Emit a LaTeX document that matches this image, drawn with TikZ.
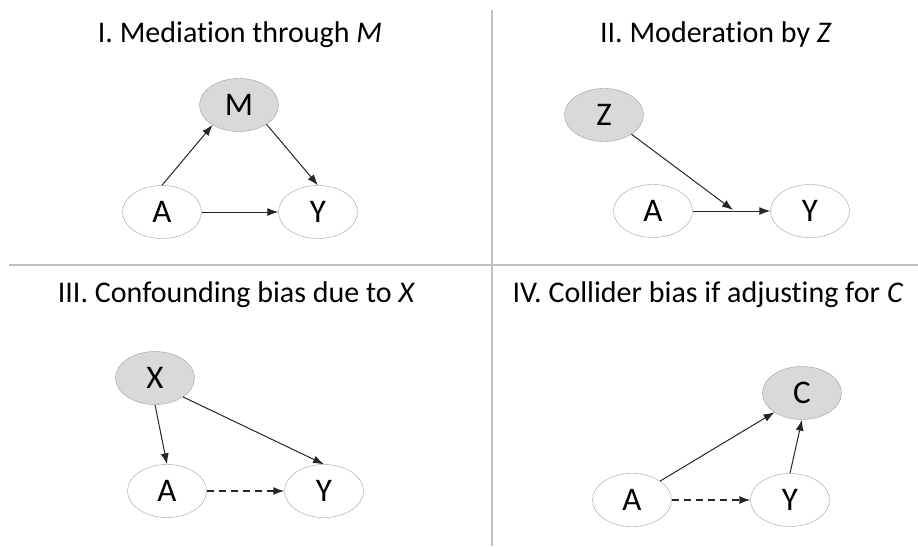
\documentclass[tikz,border=0pt]{standalone}
\usepackage{fontspec}
\setmainfont{Carlito}[Ligatures=NoCommon]
\usepackage{tikz}
\usetikzlibrary{shapes.geometric, arrows.meta}

\tikzset{
  var/.style={ellipse, draw=gray!75, fill=white, minimum width=79pt, minimum height=53pt, inner sep=0pt, font=\fontsize{33}{36}\selectfont},
  shaded/.style={var, fill=gray!30},
  edge/.style={-{Latex[length=11pt,width=8pt]}, draw=black!85, line width=1pt},
  biasedge/.style={edge, dash pattern=on 7pt off 5pt, line width=1.4pt},
  title/.style={anchor=base, font=\fontsize{30}{34}\selectfont},
  divider/.style={draw=gray!50, line width=1.5pt}
}

\begin{document}
\begin{tikzpicture}[x=1pt, y=-1pt]
    \useasboundingbox (0,0) rectangle (918,546);

    % Draw dividers
    \draw[divider] (492,10) -- (492,546);
    \draw[divider] (9,265) -- (918,265);

    % Panel I (mediation)
    \node[title] (t1) at (240,42) {I. Mediation through \textit{M}};
    \node[shaded] (M) at (239,105) {M};
    \node[var] (A1) at (162,212) {A};
    \node[var] (Y1) at (318,212) {Y};
    \draw[edge] (A1.north) -- (M.217);
    \draw[edge] (M.325) -- (Y1.north);
    \draw[edge] (A1.east) -- (Y1.west);

    % Panel II (moderation)
    \node[title] (t2) at (716,42) {II. Moderation by \textit{Z}};
    \node[shaded] (Z) at (604,115) {Z};
    \node[var] (A2) at (653,211) {A};
    \node[var] (Y2) at (810,211) {Y};
    \coordinate (mod) at (733,210);
    \draw[edge] (A2.east) -- (Y2.west);
    \draw[edge] (Z.325) -- (mod);

    % Panel III (confounding)
    \node[title] (t3) at (236.5,302) {III. Confounding bias due to \textit{X}};
    \node[shaded] (X) at (155,378) {X};
    \node[var] (A3) at (167,491) {A};
    \node[var] (Y3) at (324,491) {Y};
    \draw[edge] (X.south) -- (A3.north);
    \draw[edge] (X.326) -- (Y3.north);
    \draw[biasedge] (A3.east) -- (Y3.west);

    % Panel IV (collider)
    \node[title] (t4) at (708,302) {IV. Collider bias if adjusting for \textit{C}};
    \node[shaded] (C) at (802,393) {C};
    \node[var] (A4) at (632,500) {A};
    \node[var] (Y4) at (790,500) {Y};
    \draw[edge] (A4.34) -- (C.215);
    \draw[edge] (Y4.north) -- (C.south);
    \draw[biasedge] (A4.east) -- (Y4.west);
\end{tikzpicture}
\end{document}
